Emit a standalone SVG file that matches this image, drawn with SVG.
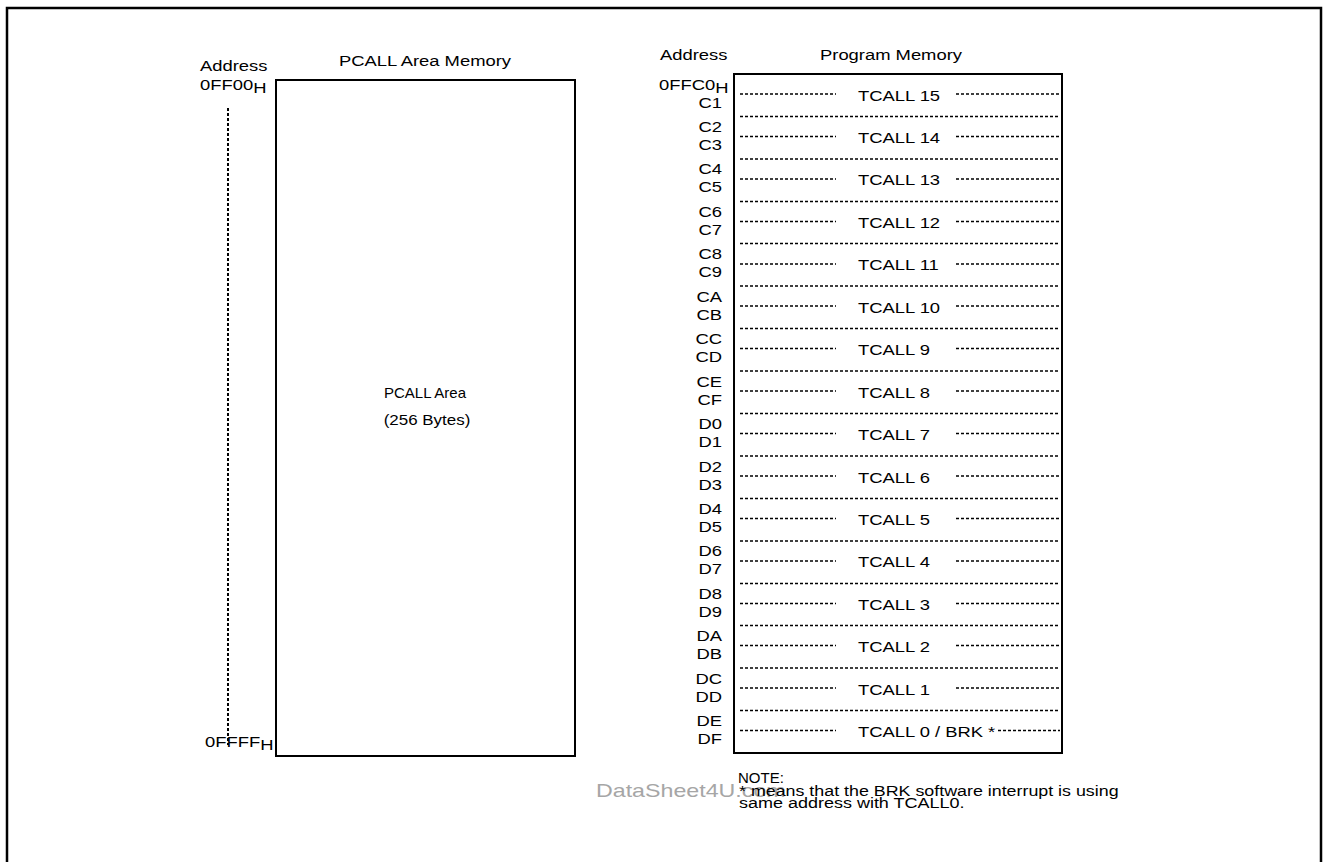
<svg xmlns="http://www.w3.org/2000/svg" width="1323" height="862" viewBox="0 0 1323 862">
<style>
.t{font-family:"Liberation Sans",Arial,sans-serif;font-size:15px;fill:#000}
.e{text-anchor:end}
.m{text-anchor:middle}
.box{fill:none;stroke:#000;stroke-width:2}
.dash{fill:none;stroke:#000;stroke-width:1.5;stroke-dasharray:3 2}
.wm{font-family:"Liberation Sans",Arial,sans-serif;font-size:18px;fill:#a6a6a6}
</style>
<rect x="0" y="0" width="1323" height="862" fill="#fff"/>
<rect x="7" y="8" width="1314" height="880" fill="none" stroke="#000" stroke-width="2.5"/>

<g id="pcall-memory">
<text class="t" transform="translate(200 71) scale(1.227 1)">Address</text>
<text class="t m" transform="translate(425 66) scale(1.227 1)">PCALL Area Memory</text>
<text class="t" transform="translate(200 89.5) scale(1.227 1)">0FF00<tspan dy="3">H</tspan></text>
<text class="t" transform="translate(205 747) scale(1.227 1)">0FFFF<tspan dy="3">H</tspan></text>
<path d="M228 108V745" fill="none" stroke="#000" stroke-width="2" stroke-dasharray="3 2"/>
<rect class="box" x="276" y="80" width="299" height="676"/>
<text class="t m" transform="translate(425 398) scale(1.0 1)">PCALL Area</text>
<text class="t m" transform="translate(427 425) scale(1.13 1)">(256 Bytes)</text>
</g>

<g id="program-memory">
<text class="t" transform="translate(660 60) scale(1.227 1)">Address</text>
<text class="t" transform="translate(820 60) scale(1.227 1)">Program Memory</text>
<rect class="box" x="734" y="74" width="328" height="679"/>
<text class="t" transform="translate(659 90) scale(1.227 1)">0FFC0<tspan dy="3">H</tspan></text>
</g>

<g id="address-labels">
<text class="t e" transform="translate(722 107.5) scale(1.227 1)">C1</text>
<text class="t e" transform="translate(722 131.9) scale(1.227 1)">C2</text>
<text class="t e" transform="translate(722 149.9) scale(1.227 1)">C3</text>
<text class="t e" transform="translate(722 174.4) scale(1.227 1)">C4</text>
<text class="t e" transform="translate(722 192.4) scale(1.227 1)">C5</text>
<text class="t e" transform="translate(722 216.8) scale(1.227 1)">C6</text>
<text class="t e" transform="translate(722 234.8) scale(1.227 1)">C7</text>
<text class="t e" transform="translate(722 259.3) scale(1.227 1)">C8</text>
<text class="t e" transform="translate(722 277.3) scale(1.227 1)">C9</text>
<text class="t e" transform="translate(722 301.7) scale(1.227 1)">CA</text>
<text class="t e" transform="translate(722 319.7) scale(1.227 1)">CB</text>
<text class="t e" transform="translate(722 344.1) scale(1.227 1)">CC</text>
<text class="t e" transform="translate(722 362.1) scale(1.227 1)">CD</text>
<text class="t e" transform="translate(722 386.6) scale(1.227 1)">CE</text>
<text class="t e" transform="translate(722 404.6) scale(1.227 1)">CF</text>
<text class="t e" transform="translate(722 429) scale(1.227 1)">D0</text>
<text class="t e" transform="translate(722 447) scale(1.227 1)">D1</text>
<text class="t e" transform="translate(722 471.5) scale(1.227 1)">D2</text>
<text class="t e" transform="translate(722 489.5) scale(1.227 1)">D3</text>
<text class="t e" transform="translate(722 513.9) scale(1.227 1)">D4</text>
<text class="t e" transform="translate(722 531.9) scale(1.227 1)">D5</text>
<text class="t e" transform="translate(722 556.3) scale(1.227 1)">D6</text>
<text class="t e" transform="translate(722 574.3) scale(1.227 1)">D7</text>
<text class="t e" transform="translate(722 598.8) scale(1.227 1)">D8</text>
<text class="t e" transform="translate(722 616.8) scale(1.227 1)">D9</text>
<text class="t e" transform="translate(722 641.2) scale(1.227 1)">DA</text>
<text class="t e" transform="translate(722 659.2) scale(1.227 1)">DB</text>
<text class="t e" transform="translate(722 683.7) scale(1.227 1)">DC</text>
<text class="t e" transform="translate(722 701.7) scale(1.227 1)">DD</text>
<text class="t e" transform="translate(722 726.1) scale(1.227 1)">DE</text>
<text class="t e" transform="translate(722 744.1) scale(1.227 1)">DF</text>
</g>

<g id="tcall-labels">
<text class="t" transform="translate(858 100.5) scale(1.227 1)">TCALL 15</text>
<text class="t" transform="translate(858 142.9) scale(1.227 1)">TCALL 14</text>
<text class="t" transform="translate(858 185.4) scale(1.227 1)">TCALL 13</text>
<text class="t" transform="translate(858 227.8) scale(1.227 1)">TCALL 12</text>
<text class="t" transform="translate(858 270.3) scale(1.227 1)">TCALL 11</text>
<text class="t" transform="translate(858 312.7) scale(1.227 1)">TCALL 10</text>
<text class="t" transform="translate(858 355.1) scale(1.227 1)">TCALL 9</text>
<text class="t" transform="translate(858 397.6) scale(1.227 1)">TCALL 8</text>
<text class="t" transform="translate(858 440) scale(1.227 1)">TCALL 7</text>
<text class="t" transform="translate(858 482.5) scale(1.227 1)">TCALL 6</text>
<text class="t" transform="translate(858 524.9) scale(1.227 1)">TCALL 5</text>
<text class="t" transform="translate(858 567.3) scale(1.227 1)">TCALL 4</text>
<text class="t" transform="translate(858 609.8) scale(1.227 1)">TCALL 3</text>
<text class="t" transform="translate(858 652.2) scale(1.227 1)">TCALL 2</text>
<text class="t" transform="translate(858 694.7) scale(1.227 1)">TCALL 1</text>
<text class="t" transform="translate(858 737.1) scale(1.227 1)">TCALL 0 / BRK *</text>
</g>

<g id="row-lines">
<path class="dash" d="M740 116.5H1060M740 159H1060M740 201.5H1060M740 243.5H1060M740 286H1060M740 328.5H1060M740 371H1060M740 413.5H1060M740 456H1060M740 498.5H1060M740 541H1060M740 583.5H1060M740 625.5H1060M740 668H1060M740 710.5H1060"/>
<path class="dash" d="M740 94H836M956 94H1060M740 136.5H836M956 136.5H1060M740 179H836M956 179H1060M740 221.5H836M956 221.5H1060M740 264H836M956 264H1060M740 306H836M956 306H1060M740 348.5H836M956 348.5H1060M740 391H836M956 391H1060M740 433.5H836M956 433.5H1060M740 476H836M956 476H1060M740 518.5H836M956 518.5H1060M740 561H836M956 561H1060M740 603.5H836M956 603.5H1060M740 645.5H836M956 645.5H1060M740 688H836M956 688H1060M740 730.5H836M998 730.5H1060"/>
</g>

<g id="note">
<text class="wm" transform="translate(596 797) scale(1.29 1)">DataSheet4U.com</text>
<text class="t" transform="translate(738 783) scale(1.0 1)">NOTE:</text>
<text class="t" transform="translate(739 796) scale(1.19 1)">* means that the BRK software interrupt is using</text>
<text class="t" transform="translate(739 808) scale(1.2 1)">same address with TCALL0.</text>
</g>
</svg>
